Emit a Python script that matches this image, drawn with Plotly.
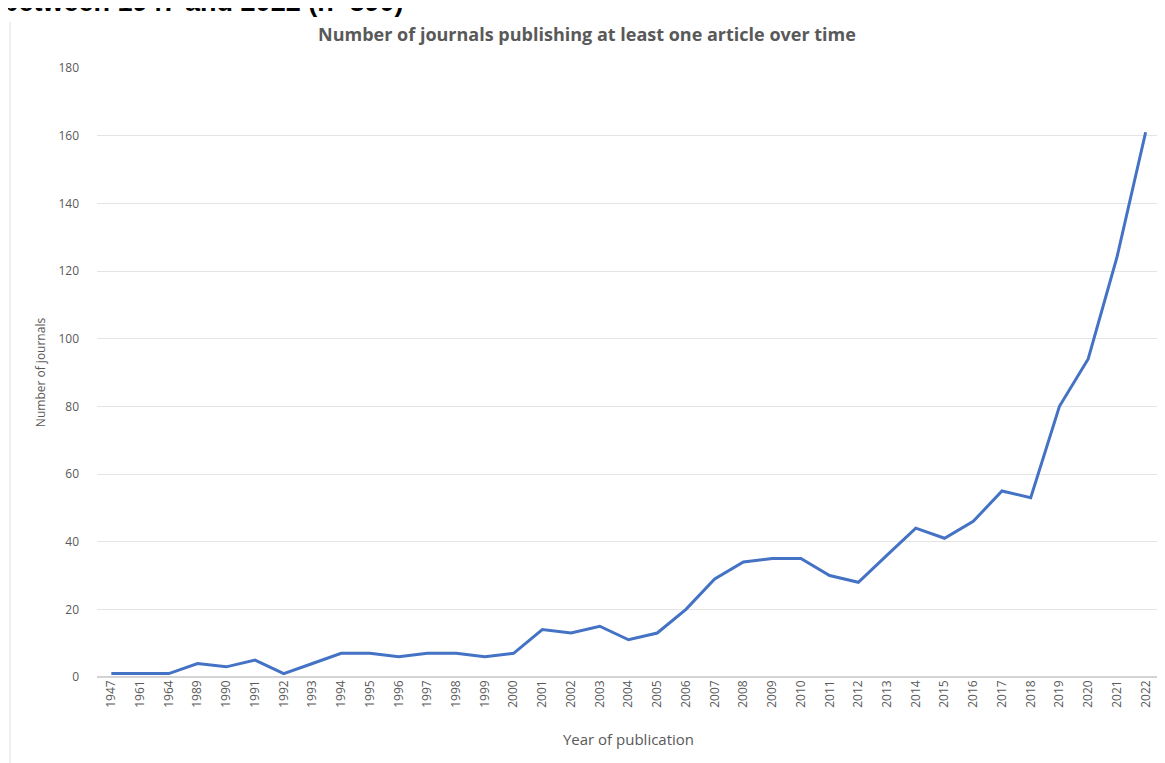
import plotly.graph_objects as go

years = ["1947", "1961", "1964", "1989", "1990", "1991", "1992", "1993", "1994", "1995",
         "1996", "1997", "1998", "1999", "2000", "2001", "2002", "2003", "2004", "2005",
         "2006", "2007", "2008", "2009", "2010", "2011", "2012", "2013", "2014", "2015",
         "2016", "2017", "2018", "2019", "2020", "2021", "2022"]
journals = [1, 1, 1, 4, 3, 5, 1, 4, 7, 7,
            6, 7, 7, 6, 7, 14, 13, 15, 11, 13,
            20, 29, 34, 35, 35, 30, 28, 36, 44, 41,
            46, 55, 53, 80, 94, 124, 161]
y_ticks = [0, 20, 40, 60, 80, 100, 120, 140, 160, 180]

title_text = "Number of journals publishing at least one article over time"
caption_text = "between 1947 and 2022 (n=890)"

grey = "#595959"
font_family = "Open Sans, Liberation Sans, sans-serif"

W, H = 1157, 755
ML, MR, MT, MB = 89, 5, 60, 86
PW, PH = W - ML - MR, H - MT - MB

fig = go.Figure()
fig.add_trace(go.Scatter(
    x=years, y=journals, mode="lines",
    line=dict(color="#4472C4", width=3),
    showlegend=False,
))

fig.update_layout(
    width=W, height=H,
    paper_bgcolor="white", plot_bgcolor="white",
    margin=dict(l=ML, r=MR, t=MT, b=MB),
    font=dict(family=font_family, color=grey, size=12),
    title=dict(text="<b>" + title_text + "</b>", x=(587 - 8) / W, xanchor="center",
               y=1 - 27 / H, yanchor="middle",
               font=dict(size=18, color=grey, family=font_family)),
    xaxis=dict(type="category", range=[-0.5, len(years) - 0.5], tickangle=-90, showgrid=False,
               showline=False, ticks="", tickfont=dict(size=12, color=grey),
               title=dict(text="Year of publication", font=dict(size=15, color=grey), standoff=27)),
    yaxis=dict(range=[0, 180], tickvals=y_ticks, showgrid=True, gridcolor="#e4e4e4",
               gridwidth=1, zeroline=True, zerolinecolor="#d4d4d4", zerolinewidth=1.5,
               showline=False, ticks="", tickfont=dict(size=12, color=grey), ticklabelstandoff=17,
               title=dict(text="Number of journals", font=dict(size=12, color=grey), standoff=10)),
)

fig.add_annotation(
    text="<b>" + caption_text + "</b>", xref="paper", yref="paper",
    x=(-8 - ML) / PW, y=1 + (MT - 11) / PH, xanchor="left", yanchor="bottom",
    showarrow=False, font=dict(size=27, color="black", family="Liberation Sans, Arial, sans-serif"),
)

fig.add_shape(type="line", xref="paper", yref="paper",
              x0=(2 - ML) / PW, x1=(2 - ML) / PW, y0=-MB / PH, y1=1 + (MT - 14) / PH,
              line=dict(color="#e0e0e0", width=1))

fig.write_html("out.html")
